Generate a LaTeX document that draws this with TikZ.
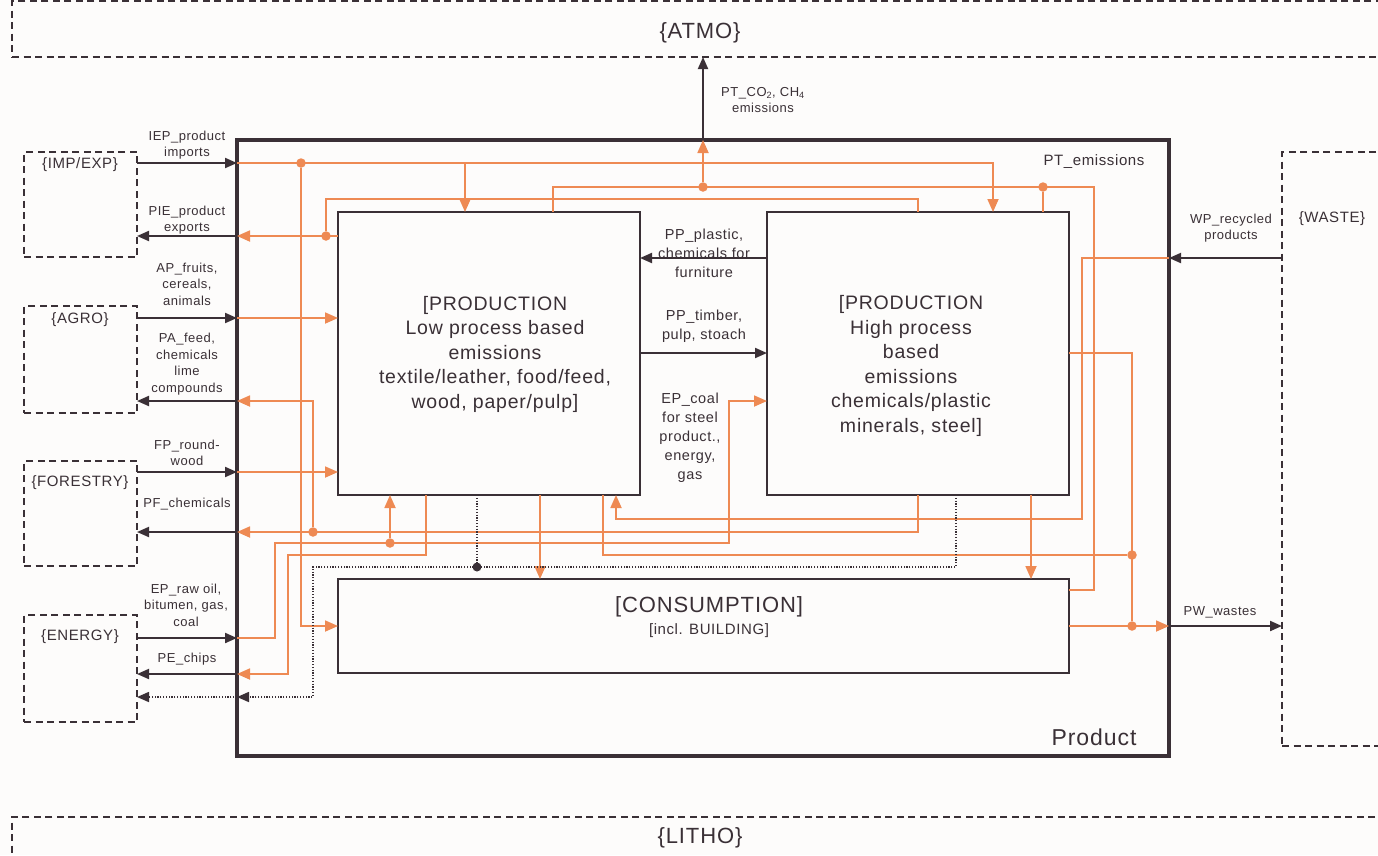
\documentclass[tikz,border=0pt]{standalone}
\usepackage{fontspec}
\setmainfont{Liberation Sans}[LetterSpace=4]
\usetikzlibrary{arrows.meta,calc}
\definecolor{ink}{HTML}{3A3036}
\definecolor{org}{HTML}{EE8A53}
\definecolor{bg}{HTML}{FDFCFB}
\begin{document}
\begin{tikzpicture}[x=1pt,y=-1pt,
  box/.style={draw=ink,line width=2.5pt,inner sep=0pt,outer sep=0pt},
  pbox/.style={draw=ink,line width=3.4pt,inner sep=0pt,outer sep=0pt},
  dbox/.style={draw=ink,line width=1.8pt,dash pattern=on 7pt off 4.5pt,inner sep=0pt,outer sep=0pt},
  ol/.style={draw=org,line width=1.8pt},
  oa/.style={ol,-{Triangle[length=13pt,width=11pt]}},
  dl/.style={draw=ink,line width=2pt},
  da/.style={dl,-{Triangle[length=12pt,width=10pt]}},
  dt/.style={draw=ink,line width=1.6pt,dash pattern=on 1.2pt off 1.6pt},
  dta/.style={dt,-{Triangle[length=12pt,width=10pt]}},
  lbl/.style={text=ink,font=\fontsize{13}{16.5}\selectfont,align=center,inner sep=0pt},
  mlbl/.style={text=ink,font=\fontsize{14.5}{19}\selectfont,align=center,inner sep=0pt},
  big/.style={text=ink,font=\fontsize{19.5}{24.5}\selectfont,align=center,inner sep=0pt},
  blbl/.style={text=ink,font=\fontsize{15}{18}\selectfont,inner sep=0pt},
  hlbl/.style={text=ink,font=\fontsize{22}{26}\selectfont,inner sep=0pt},
  odot/.style={circle,fill=org,inner sep=0pt,minimum size=9.5pt},
  kdot/.style={circle,fill=ink,inner sep=0pt,minimum size=9pt},
]
\useasboundingbox (0,0) rectangle (1378,855);
\fill[bg] (0,0) rectangle (1378,855);
\clip (0,0) rectangle (1378,855);

% grid of named columns and rows
\foreach \v in {275,288,301,313,326,390,426,465,477,540,553,603,616,703,729,918,956,993,1031,1043,1082,1094,1132}
  \coordinate (c\v) at (\v,0);
\foreach \v in {163,187,199,236,258,318,353,401,472,519,532,543,555,567,590,626,638,674,697}
  \coordinate (r\v) at (0,\v);

% boxes
\node[dbox,minimum width=1376pt,minimum height=56pt] (atmo) at (700,29) {};
\node[dbox,minimum width=1376pt,minimum height=83pt] (litho) at (700,858.5) {};
\node[dbox,minimum width=113pt,minimum height=105pt] (imp) at (80.5,204.5) {};
\node[dbox,minimum width=113pt,minimum height=107pt] (agro) at (80.5,359.5) {};
\node[dbox,minimum width=113pt,minimum height=105pt] (forestry) at (80.5,513.5) {};
\node[dbox,minimum width=113pt,minimum height=107pt] (energy) at (80.5,668.5) {};
\node[dbox,minimum width=118pt,minimum height=594pt] (waste) at (1341,449) {};
\node[pbox,minimum width=932pt,minimum height=616pt] (prod) at (703,448) {};
\node[box,minimum width=302pt,minimum height=283pt] (low) at (489,353.5) {};
\node[box,minimum width=302pt,minimum height=283pt] (high) at (918,353.5) {};
\node[box,minimum width=731pt,minimum height=94pt] (cons) at (703.5,626) {};

% junction dots
\node[odot] (d1) at (c301 |- r163) {};
\node[odot] (d2) at (c703 |- r187) {};
\node[odot] (d3) at (c1043 |- r187) {};
\node[odot] (d4) at (c326 |- r236) {};
\node[odot] (d5) at (c313 |- r532) {};
\node[odot] (d6) at (c390 |- r543) {};
\node[odot] (d7) at (c1132 |- r555) {};
\node[odot] (d8) at (c1132 |- r626) {};
\node[kdot] (kd) at (c477 |- r567) {};

% orange flows
\draw[oa] (prod.west |- r163) -- (c993 |- r163) -- (high.north -| c993);
\draw[oa] (c465 |- r163) -- (low.north -| c465);
\draw[oa] (d1) -- (c301 |- r626) -- (cons.west |- r626);
\draw[ol] (low.north -| c553) -- (c553 |- r187) -- (c1094 |- r187) -- (c1094 |- r590) -- (cons.east |- r590);
\draw[oa] (d2) -- (prod.north -| c703);
\draw[ol] (d3) -- (high.north -| c1043);
\draw[ol] (high.north -| c918) -- (c918 |- r199) -- (c326 |- r199) -- (d4);
\draw[oa] (low.west |- r236) -- (prod.west |- r236);
\draw[oa] (prod.west |- r318) -- (low.west |- r318);
\draw[oa] (prod.west |- r472) -- (low.west |- r472);
\draw[oa] (high.south -| c918) -- (c918 |- r532) -- (prod.west |- r532);
\draw[oa] (d5) -- (c313 |- r401) -- (prod.west |- r401);
\draw[oa] (prod.west |- r638) -- (c275 |- r638) -- (c275 |- r543) -- (c729 |- r543) -- (c729 |- r401) -- (high.west |- r401);
\draw[oa] (d6) -- (low.south -| c390);
\draw[oa] (low.south -| c426) -- (c426 |- r555) -- (c288 |- r555) -- (c288 |- r674) -- (prod.west |- r674);
\draw[oa] (low.south -| c540) -- (cons.north -| c540);
\draw[ol] (low.south -| c603) -- (c603 |- r555) -- (d7);
\draw[ol] (high.east |- r353) -- (c1132 |- r353) -- (d8);
\draw[oa] (cons.east |- r626) -- (prod.east |- r626);
\draw[oa] (high.south -| c1031) -- (cons.north -| c1031);
\draw[oa] (prod.east |- r258) -- (c1082 |- r258) -- (c1082 |- r519) -- (c616 |- r519) -- (low.south -| c616);

% dotted flow
\draw[dt] (low.south -| c477) -- (kd);
\draw[dta] (high.south -| c956) -- (c956 |- r567) -- (c313 |- r567) -- (c313 |- r697) -- (prod.west |- r697);
\draw[dta] (prod.west |- r697) -- (energy.east |- r697);

% dark flows
\draw[da] (imp.east |- r163) -- (prod.west |- r163);
\draw[da] (prod.west |- r236) -- (imp.east |- r236);
\draw[da] (agro.east |- r318) -- (prod.west |- r318);
\draw[da] (prod.west |- r401) -- (agro.east |- r401);
\draw[da] (forestry.east |- r472) -- (prod.west |- r472);
\draw[da] (prod.west |- r532) -- (forestry.east |- r532);
\draw[da] (energy.east |- r638) -- (prod.west |- r638);
\draw[da] (prod.west |- r674) -- (energy.east |- r674);
\draw[da] (prod.north -| c703) -- (atmo.south -| c703);
\draw[da] (waste.west |- r258) -- (prod.east |- r258);
\draw[da] (prod.east |- r626) -- (waste.west |- r626);
\draw[da] (high.west |- r258) -- (low.east |- r258);
\draw[da] (low.east |- r353) -- (high.west |- r353);

% box labels
\node[hlbl] (latmo) at (700,33) {\{ATMO\}};
\node[hlbl] (llitho) at (700,838) {\{LITHO\}};
\node[blbl] (limp) at (80,165) {\{IMP/EXP\}};
\node[blbl] (lagro) at (80,320) {\{AGRO\}};
\node[blbl] (lfor) at (80,483) {\{FORESTRY\}};
\node[blbl] (lene) at (80,637) {\{ENERGY\}};
\node[blbl] (lwaste) at (1332,219) {\{WASTE\}};
\node[big] (tlow) at (495,354) {[PRODUCTION\\Low process based\\emissions\\textile/leather, food/feed,\\wood, paper/pulp]};
\node[big] (thigh) at (911,366) {[PRODUCTION\\High process\\based\\emissions\\chemicals/plastic\\minerals, steel]};
\node[text=ink,font=\fontsize{22}{26}\selectfont,inner sep=0pt] (tcons) at (709,607) {[CONSUMPTION]};
\node[text=ink,font=\fontsize{15}{18}\selectfont,inner sep=0pt] (tbuild) at (709,631) {[incl. BUILDING]};
\node[text=ink,font=\fontsize{23}{27}\selectfont,inner sep=0pt] (tprod) at (1094,737) {Product};

% flow labels
\node[lbl] (liep) at (187,145) {IEP\_product\\imports};
\node[lbl] (lpie) at (187,220) {PIE\_product\\exports};
\node[lbl] (lap) at (187,284) {AP\_fruits,\\cereals,\\animals};
\node[lbl] (lpa) at (187,364) {PA\_feed,\\chemicals\\lime\\compounds};
\node[lbl] (lfp) at (187,453) {FP\_round-\\wood};
\node[lbl] (lpf) at (187,504) {PF\_chemicals};
\node[lbl] (lep) at (186,605) {EP\_raw oil,\\bitumen, gas,\\coal};
\node[lbl] (lpe) at (187,659) {PE\_chips};
\node[lbl] (lpt) at (763,100) {PT\_CO\textsubscript{2}, CH\textsubscript{4}\\emissions};
\node[text=ink,font=\fontsize{15}{18}\selectfont,inner sep=0pt] (lpte) at (1094,162) {PT\_emissions};
\node[lbl] (lwp) at (1231,228) {WP\_recycled\\products};
\node[lbl] (lpw) at (1220,612) {PW\_wastes};
\node[mlbl] (lppp) at (704,253) {PP\_plastic,\\chemicals for\\furniture};
\node[mlbl] (lppt) at (704,326) {PP\_timber,\\pulp, stoach};
\node[mlbl] (lepc) at (690,438) {EP\_coal\\for steel\\product.,\\energy,\\gas};
\end{tikzpicture}
\end{document}
